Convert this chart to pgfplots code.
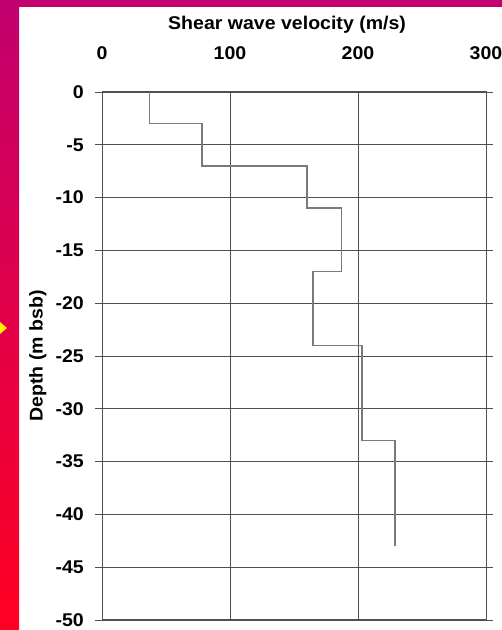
\documentclass[border=0pt]{standalone}
\usepackage{fontspec}
\setmainfont{Liberation Sans}[FakeStretch=1.06]
\usepackage{pgfplots}
\pgfplotsset{compat=1.18}
\definecolor{magtop}{HTML}{C2006E}
\definecolor{redbot}{HTML}{FF0022}
\definecolor{gridc}{HTML}{505050}
\definecolor{linec}{HTML}{7A7A7A}
\begin{document}
\begin{tikzpicture}[x=1bp,y=1bp]
\path[use as bounding box] (0,0) rectangle (502,630);
\fill[white] (0,0) rectangle (502,630);
\fill[magtop] (0,623) rectangle (502,630);
\shade[top color=magtop, bottom color=redbot] (0,0) rectangle (19,630);
\fill[yellow] (0,308) -- (7,302) -- (0,296) -- cycle;
\begin{axis}[
  at={(102bp,10bp)}, anchor=south west,
  scale only axis, width=384bp, height=528bp,
  xmin=0, xmax=300, ymin=-50, ymax=0,
  xtick={0,100,200,300}, ytick={0,-5,...,-50},
  xticklabel pos=upper,
  xmajorgrids, ymajorgrids,
  grid style={gridc, line width=0.9bp},
  axis line style={gridc, line width=1bp},
  tick align=outside, major tick length=7bp,
  xtick style={draw=none},
  ytick style={gridc, line width=0.9bp},
  font=\fontsize{18.5}{21}\selectfont\bfseries,
  /pgf/number format/assume math mode=true,
  xticklabel style={anchor=base, inner sep=0pt, yshift=25bp},
  yticklabel style={anchor=east, inner sep=0pt, xshift=-11bp},
  title={Shear wave velocity (m/s)},
  title style={at={(axis description cs:0.482,1)}, anchor=base, inner sep=0pt, yshift=57bp},
  ylabel={Depth (m bsb)},
  ylabel style={at={(axis description cs:-0.167,0.5)}, anchor=center, rotate=0, inner sep=0pt},
  clip=false,
]
\addplot[linec, line width=1.6bp] coordinates {
 (37,0) (37,-3) (78,-3) (78,-7) (160,-7) (160,-11) (187,-11) (187,-17)
 (165,-17) (165,-24) (203,-24) (203,-33) (229,-33) (229,-43)
};
\end{axis}
\end{tikzpicture}
\end{document}
